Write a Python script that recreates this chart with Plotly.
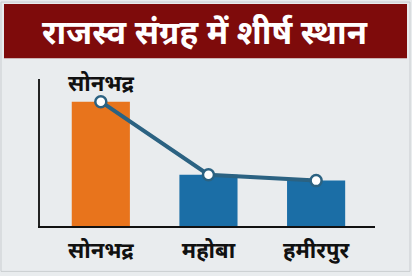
import plotly.graph_objects as go

districts = ["सोनभद्र", "महोबा", "हमीरपुर"]
revenue = [126, 52, 46]
bar_colors = ["#E8741C", "#1B6EA6", "#1B6EA6"]
title_text = "राजस्व संग्रह में शीर्ष स्थान"
top_label = "सोनभद्र"

W, H = 412, 276
L, R, T, B = 40, 37, 79, 48
pw, ph = W - L - R, H - T - B

def px(x):
    return (x - L) / pw

def py(y):
    return (H - B - y) / ph

fig = go.Figure()
fig.add_trace(go.Bar(x=districts, y=revenue, marker=dict(color=bar_colors, line=dict(width=0)),
                     width=0.54, hoverinfo="skip"))
fig.add_trace(go.Scatter(x=districts, y=revenue, mode="lines+markers",
                         line=dict(color="#2B6282", width=4),
                         marker=dict(size=11, color="white", line=dict(color="#2B6282", width=2.5))))

fig.add_shape(type="rect", xref="paper", yref="paper", x0=px(1), x1=px(410), y0=py(1), y1=py(274),
              fillcolor="rgba(0,0,0,0)", line=dict(color="#C9CDD0", width=1), layer="below")
fig.add_shape(type="rect", xref="paper", yref="paper", x0=px(4), x1=px(407), y0=py(3), y1=py(58),
              fillcolor="#7E0B0B", line=dict(width=0), layer="below")
fig.add_annotation(xref="paper", yref="paper", x=px(205), y=py(31), text="<b>" + title_text + "</b>",
                   showarrow=False, font=dict(size=33, color="white", family="Noto Sans"),
                   xanchor="center", yanchor="middle")
fig.add_annotation(x=districts[0], y=revenue[0], yref="y", text="<b>" + top_label + "</b>",
                   showarrow=False, yshift=20, font=dict(size=22, color="#111111", family="Noto Sans"))

fig.update_layout(
    width=W, height=H, margin=dict(l=L, r=R, t=T, b=B),
    paper_bgcolor="#E9ECEE", plot_bgcolor="#E9ECEE",
    showlegend=False, bargap=0.46,
    xaxis=dict(range=[-0.565, 2.547], showline=True, linecolor="#111111", linewidth=2,
               ticks="", showgrid=False, zeroline=False, fixedrange=True,
               tickfont=dict(size=22, color="#111111", family="Noto Sans"), ticklabelstandoff=4),
    yaxis=dict(range=[0, 149], showline=True, linecolor="#222222", linewidth=1.5,
               showticklabels=False, ticks="", showgrid=False, zeroline=False),
)
fig.update_xaxes(tickprefix="<b>", ticksuffix="</b>")
fig.write_html("out.html")
